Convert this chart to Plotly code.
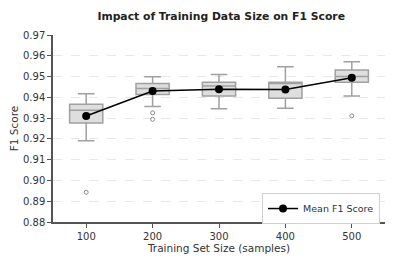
import plotly.graph_objects as go

sizes = ["100", "200", "300", "400", "500"]
q1 = [0.9276, 0.9414, 0.9407, 0.9396, 0.9472]
median = [0.9338, 0.9443, 0.9455, 0.9466, 0.9500]
q3 = [0.9367, 0.9467, 0.9473, 0.9473, 0.9532]
lower = [0.9191, 0.9356, 0.9345, 0.9348, 0.9406]
upper = [0.9417, 0.9499, 0.9510, 0.9547, 0.9571]
mean_f1 = [0.9310, 0.9430, 0.9439, 0.9438, 0.9494]
outlier_x = ["100", "200", "200", "500"]
outlier_y = [0.8943, 0.9325, 0.9294, 0.9311]

font = "DejaVu Sans"
fig = go.Figure()
fig.add_trace(go.Box(
    x=sizes, q1=q1, median=median, q3=q3, lowerfence=lower, upperfence=upper,
    boxpoints=False, fillcolor="#dedede", line=dict(color="#a0a0a0", width=1.5),
    width=0.5, whiskerwidth=0.5, showlegend=False, hoverinfo="skip"))
fig.add_trace(go.Scatter(
    x=outlier_x, y=outlier_y, mode="markers", showlegend=False,
    marker=dict(symbol="circle-open", size=4, color="#8a8a8a", line=dict(width=1))))
fig.add_trace(go.Scatter(
    x=sizes, y=mean_f1, mode="lines+markers", name="Mean F1 Score",
    line=dict(color="black", width=1.5), marker=dict(color="black", size=8)))

fig.update_layout(
    width=389, height=256,
    margin=dict(l=45, r=12, t=27, b=42),
    paper_bgcolor="white", plot_bgcolor="white",
    font=dict(family=font, size=10, color="#333"),
    title=dict(text="<b>Impact of Training Data Size on F1 Score</b>",
               x=0.548, xanchor="center", y=0.969, yanchor="middle",
               font=dict(size=10.8, color="#222")),
    showlegend=True,
    legend=dict(x=0.985, y=0.072, xanchor="right", yanchor="middle",
                bordercolor="#d0d0d0", borderwidth=1, bgcolor="white",
                font=dict(size=9.5, color="#333"), itemwidth=30),
    boxmode="overlay",
)
fig.update_xaxes(
    type="category", range=[-0.5, 4.5], automargin=False,
    showline=True, linecolor="#555", linewidth=1.5,
    ticks="outside", ticklen=4, tickcolor="#555", showgrid=False,
    title=dict(text="Training Set Size (samples)", font=dict(size=10.5, color="#333"), standoff=2))
fig.update_yaxes(
    range=[0.88, 0.97], dtick=0.01, tickformat=".2f", automargin=False,
    showline=True, linecolor="#555", linewidth=1.5,
    ticks="outside", ticklen=4, tickcolor="#555",
    showgrid=True, gridcolor="#e8e8e8", griddash="dash", gridwidth=0.8,
    zeroline=False,
    title=dict(text="F1 Score", font=dict(size=10.5, color="#333"), standoff=2))

fig.write_html("out.html")
